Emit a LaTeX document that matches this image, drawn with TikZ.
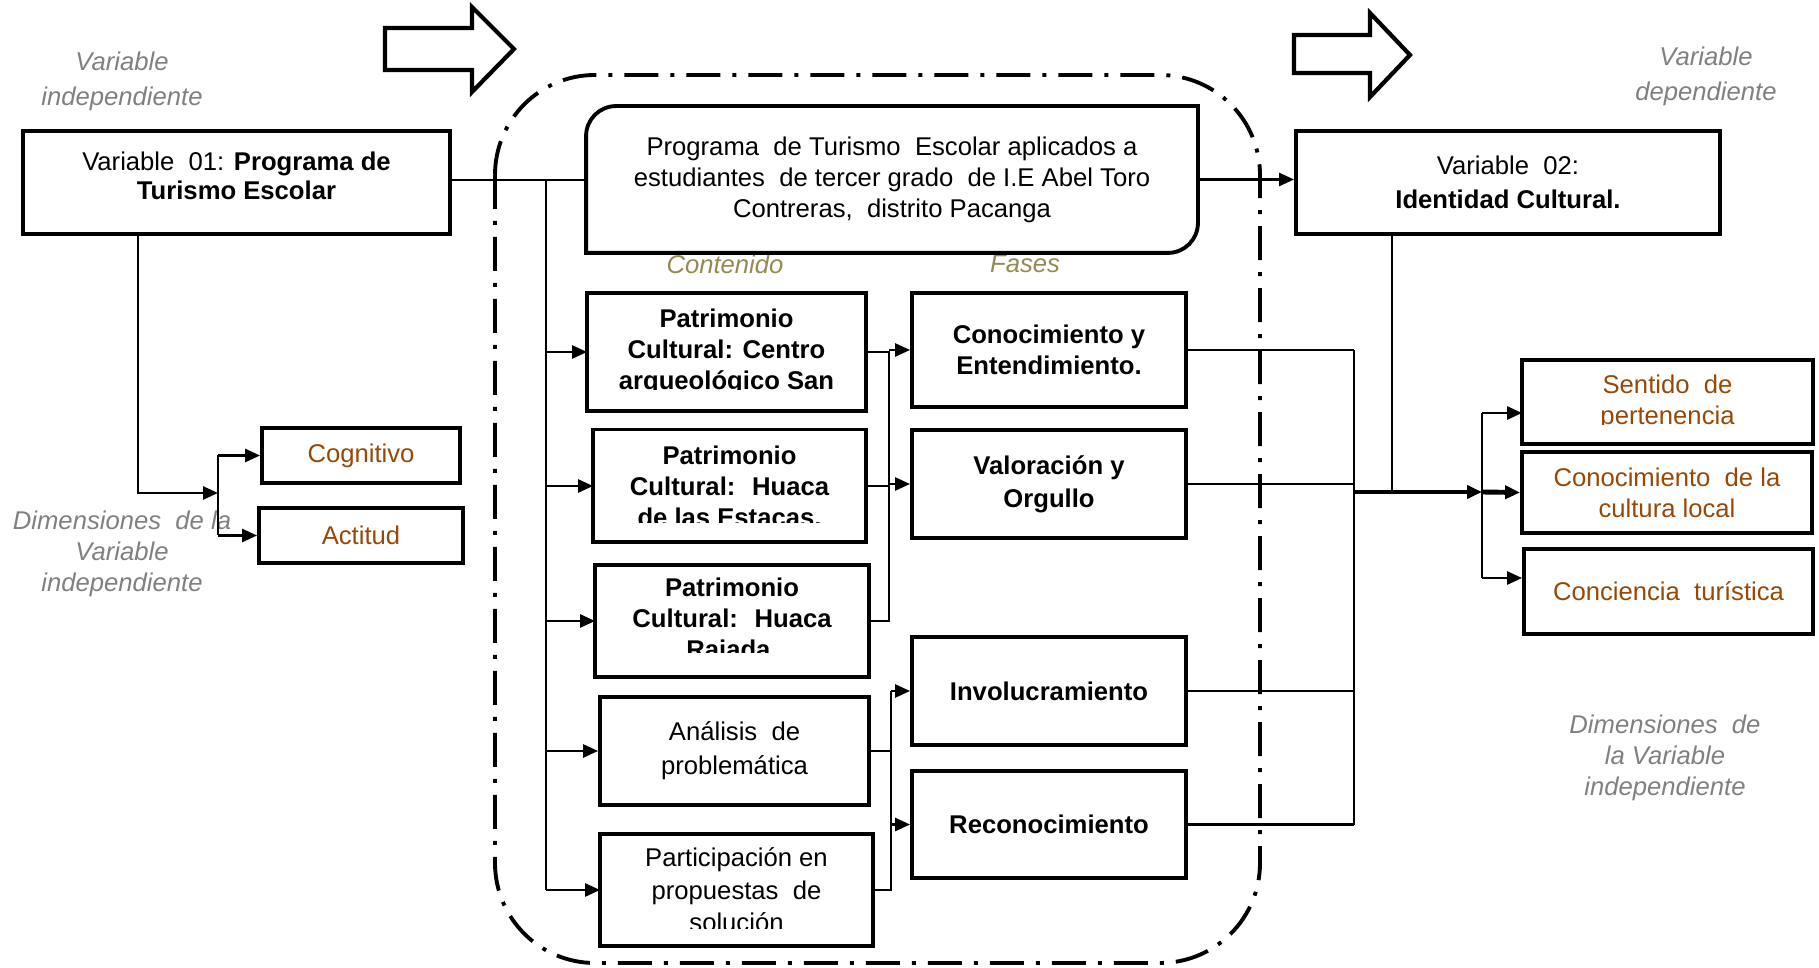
\documentclass[tikz,border=0pt]{standalone}
\usepackage{fontspec}
\setmainfont{Liberation Sans}
\usetikzlibrary{arrows.meta}

\definecolor{rotulo}{HTML}{808080}
\definecolor{marron}{HTML}{984806}
\definecolor{oliva}{HTML}{948A54}
\newcommand\tamano{\fontsize{7.3}{8.8}\selectfont}

\begin{document}
\begin{tikzpicture}[
    font=\tamano,
    caja/.style={draw, line width=1.1pt, inner sep=0pt, align=center},
    cajatexto/.style={inner sep=0pt, outer sep=0.55pt, align=center},
    negrita/.style={font=\tamano\bfseries},
    dimension/.style={text=marron},
    rotulo/.style={text=rotulo, font=\fontsize{7.3}{9.9}\selectfont\itshape, align=center},
    marco/.style={line width=1.1pt},
    linea/.style={line width=0.75pt},
    flecha/.style={line width=0.75pt, -{Triangle[length=1.5mm,width=1.3mm]}},
    bloque/.style={line width=1.2pt, line join=miter},
]

    \useasboundingbox (0,0) rectangle (18.19,-9.68);

    % Flechas de bloque
    \draw[bloque] (3.85,-0.28) -- (4.72,-0.28) -- (4.72,-0.07) -- (5.14,-0.49)
        -- (4.72,-0.92) -- (4.72,-0.70) -- (3.85,-0.70) -- cycle;
    \draw[bloque] (12.94,-0.35) -- (13.70,-0.35) -- (13.70,-0.13) -- (14.10,-0.55)
        -- (13.70,-0.97) -- (13.70,-0.73) -- (12.94,-0.73) -- cycle;

    % Marco del programa
    \draw[line width=1.1pt, rounded corners=1cm,
          dash pattern=on 0.34cm off 0.12cm on 0.04cm off 0.12cm]
        (4.95,-0.75) rectangle (12.60,-9.63);

    % Rotulos
    \node[rotulo] (rvi) at (1.22,-0.81) {Variable\\ independiente};
    \node[rotulo] (rvd) at (17.06,-0.76) {Variable\\ dependiente};
    \node[rotulo, font=\fontsize{7.3}{8.9}\selectfont\itshape] (rdi) at (1.22,-5.54) {Dimensiones~ de la\\ Variable\\ independiente};
    \node[rotulo, font=\fontsize{7.3}{8.9}\selectfont\itshape] (rdd) at (16.65,-7.58) {Dimensiones~ de\\ la Variable\\ independiente};
    \node[text=oliva, font=\tamano\itshape] (contenido) at (7.25,-2.64) {Contenido};
    \node[text=oliva, font=\tamano\itshape] (fases) at (10.25,-2.64) {Fases};

    % Variables
    \node[caja, minimum width=4.27cm, minimum height=1.03cm, font=\fontsize{7.3}{8.4}\selectfont] (var1) at (2.365,-1.825)
        {Variable~ 01: \textbf{Programa de}\\ \textbf{Turismo Escolar}\\[-4.6pt]};
    \node[caja, minimum width=4.24cm, minimum height=1.03cm, font=\fontsize{7.3}{9.6}\selectfont] (var2) at (15.08,-1.825)
        {Variable~ 02:\\ \textbf{Identidad Cultural.}};

    % Programa
    \node[cajatexto, minimum width=6.08cm, minimum height=1.43cm] (prog) at (8.92,-1.795)
        {Programa~ de Turismo~ Escolar aplicados a\\ estudiantes~ de tercer grado~ de I.E Abel Toro\\ Contreras,~ distrito Pacanga};
    \draw[marco] (prog.west) [rounded corners=3mm] -- (prog.north west) -- (prog.north)
        [sharp corners] -- (prog.north east) -- (prog.east)
        [rounded corners=3mm] -- (prog.south east) -- (prog.south)
        [sharp corners] -- (prog.south west) -- cycle;

    % Contenido
    \begin{scope}
        \clip (5.89,-2.93) rectangle (8.64,-3.90);
        \node[cajatexto, negrita, minimum width=2.75cm, minimum height=1.14cm] (pa) at (7.265,-3.52)
            {Patrimonio\\ Cultural: Centro\\ arqueológico San};
    \end{scope}
    \draw[marco] (pa.south west) rectangle (pa.north east);
    \begin{scope}
        \clip (5.95,-4.29) rectangle (8.64,-5.23);
        \node[cajatexto, negrita, minimum width=2.69cm, minimum height=1.09cm] (pb) at (7.295,-4.86)
            {Patrimonio\\ Cultural:~ Huaca\\ de las Estacas.};
    \end{scope}
    \draw[marco] (pb.south west) rectangle (pb.north east);
    \begin{scope}
        \clip (5.97,-5.65) rectangle (8.67,-6.53);
        \node[cajatexto, negrita, minimum width=2.70cm, minimum height=1.08cm] (pc) at (7.32,-6.21)
            {Patrimonio\\ Cultural:~ Huaca\\ Rajada.};
    \end{scope}
    \draw[marco] (pc.south west) rectangle (pc.north east);
    \node[caja, minimum width=2.69cm, minimum height=1.08cm, font=\fontsize{7.3}{9.7}\selectfont] (an) at (7.345,-7.51)
        {Análisis~ de\\ problemática};
    \begin{scope}
        \clip (6.02,-8.29) rectangle (8.71,-9.28);
        \node[cajatexto, minimum width=2.69cm, minimum height=1.08cm, font=\fontsize{7.3}{9.2}\selectfont] (pt) at (7.365,-8.90)
            {Participación en\\ propuestas~ de\\ solución};
    \end{scope}
    \draw[marco] (pt.south west) rectangle (pt.north east);

    % Fases
    \node[caja, negrita, minimum width=2.74cm, minimum height=1.14cm] (fa) at (10.49,-3.50)
        {Conocimiento y\\ Entendimiento.};
    \node[caja, negrita, minimum width=2.74cm, minimum height=1.08cm, font=\fontsize{7.3}{9.4}\selectfont\bfseries] (fb) at (10.49,-4.84)
        {Valoración y\\ Orgullo};
    \node[caja, negrita, minimum width=2.74cm, minimum height=1.08cm] (fc) at (10.49,-6.91)
        {Involucramiento};
    \node[caja, negrita, minimum width=2.74cm, minimum height=1.07cm] (fd) at (10.49,-8.245)
        {Reconocimiento};

    % Dimensiones
    \node[caja, dimension, minimum width=1.98cm, minimum height=0.55cm] (cog) at (3.61,-4.555) {Cognitivo};
    \node[caja, dimension, minimum width=2.04cm, minimum height=0.55cm] (act) at (3.61,-5.355) {Actitud};
    \begin{scope}
        \clip (15.24,-3.58) rectangle (18.11,-4.25);
        \node[cajatexto, dimension, minimum width=2.87cm, minimum height=0.80cm] (sen) at (16.675,-4.02)
            {Sentido~ de\\ pertenencia};
    \end{scope}
    \draw[marco] (sen.south west) rectangle (sen.north east);
    \node[caja, dimension, minimum width=2.90cm, minimum height=0.81cm] (con) at (16.67,-4.925)
        {Conocimiento~ de la\\ cultura local};
    \node[caja, dimension, minimum width=2.89cm, minimum height=0.85cm] (cnc) at (16.685,-5.915)
        {Conciencia~ turística};

    % Conectores
    \coordinate (contbus) at (5.46,-1.80);
    \draw[linea] (var1.east |- contbus) -- (contbus) -- (prog.west |- contbus);
    \draw[linea] (contbus) -- (contbus |- pt.west);
    \foreach \n in {pa,pb,pc,an,pt}
        \draw[flecha] (contbus |- \n.west) -- (\n.west);
    \draw[flecha] (prog.east) -- (prog.east -| var2.west);

    \coordinate (bajada) at (1.38,-4.93);
    \coordinate (izq) at (2.18,-4.93);
    \draw[flecha] (var1.south -| bajada) -- (bajada) -- (izq);
    \draw[line width=0.5pt] (izq |- cog.west) -- (izq |- act.west);
    \draw[flecha] (izq |- cog.west) -- (cog.west);
    \draw[flecha] (izq |- act.west) -- (act.west);

    \coordinate (pbus) at (8.89,0);
    \draw[linea] (pa.east) -- (pa.east -| pbus) -- (pc.east -| pbus) -- (pc.east);
    \draw[linea] (pb.east) -- (pb.east -| pbus);
    \draw[flecha] (fa.west -| pbus) -- (fa.west);
    \draw[flecha] (fb.west -| pbus) -- (fb.west);

    \coordinate (abus) at (8.91,0);
    \draw[linea] (an.east) -- (an.east -| abus);
    \draw[linea] (pt.east) -- (pt.east -| abus) -- (fc.west -| abus);
    \draw[flecha] (fc.west -| abus) -- (fc.west);
    \draw[flecha] (fd.west -| abus) -- (fd.west);

    \coordinate (fbus) at (13.54,0);
    \foreach \n in {fa,fb,fc,fd}
        \draw[linea] (\n.east) -- (\n.east -| fbus);
    \draw[linea] (fa.east -| fbus) -- (fd.east -| fbus);

    \coordinate (nodo) at (13.54,-4.92);
    \coordinate (baja) at (13.92,-4.92);
    \coordinate (rama) at (14.82,-4.92);
    \coordinate (rsen) at (14.82,-4.13);
    \coordinate (rcnc) at (14.82,-5.78);
    \draw[linea] (var2.south -| baja) -- (baja);
    \draw[flecha, line width=1.4pt] (nodo) -- (rama);
    \draw[flecha, line width=1.4pt] (rama) -- (con.west);
    \draw[line width=0.5pt] (rsen) -- (rcnc);
    \draw[flecha] (rsen) -- (rsen -| sen.west);
    \draw[flecha] (rcnc) -- (rcnc -| cnc.west);

\end{tikzpicture}
\end{document}
